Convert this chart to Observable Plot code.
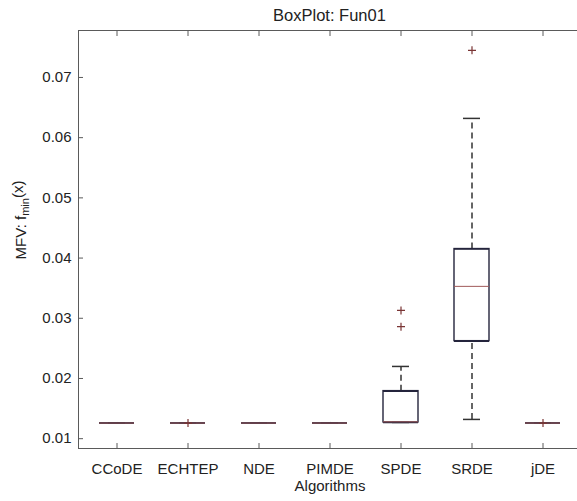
<!DOCTYPE html>
<html>
<head>
<meta charset="utf-8">
<script src="https://cdn.jsdelivr.net/npm/d3@7"></script>
<script src="https://cdn.jsdelivr.net/npm/@observablehq/plot@0.6"></script>
<style>
  html, body { margin: 0; padding: 0; background: white; overflow: hidden; }
  #chart { width: 577px; height: 501px; overflow: hidden; }
  #chart svg { max-width: none !important; overflow: hidden; }
</style>
</head>
<body>
<div id="chart"></div>
<script>
const algorithms = ["CCoDE", "ECHTEP", "NDE", "PIMDE", "SPDE", "SRDE", "jDE"];
const q1Values = [0.0126, 0.0126, 0.0126, 0.0126, 0.0127, 0.0262, 0.0126];
const medianValues = [0.0126, 0.0126, 0.0126, 0.0126, 0.0128, 0.0353, 0.0126];
const q3Values = [0.0126, 0.0126, 0.0126, 0.0126, 0.0179, 0.0415, 0.0126];
const lowerWhiskers = [0.0126, 0.0126, 0.0126, 0.0126, 0.0127, 0.0132, 0.0126];
const upperWhiskers = [0.0126, 0.0126, 0.0126, 0.0126, 0.0220, 0.0632, 0.0126];
const outlierAlgorithms = ["ECHTEP", "SPDE", "SPDE", "SRDE", "jDE"];
const outlierValues = [0.0126, 0.0313, 0.0286, 0.0745, 0.0126];
const yTicks = [0.01, 0.02, 0.03, 0.04, 0.05, 0.06, 0.07];
const titleText = "BoxPlot: Fun01";
const xLabel = "Algorithms";

const boxes = algorithms.map((a, i) => ({
  name: a, q1: q1Values[i], median: medianValues[i], q3: q3Values[i],
  lo: lowerWhiskers[i], hi: upperWhiskers[i]
}));
const outliers = outlierAlgorithms.map((a, i) => ({name: a, value: outlierValues[i]}));

const boxColor = "#24243c";
const frameColor = "#5a5a5a";

const chart = Plot.plot({
  width: 577,
  height: 501,
  marginLeft: 78,
  marginRight: -4,
  marginTop: 30,
  marginBottom: 53,
  x: {type: "band", domain: algorithms, padding: 0},
  y: {domain: [0.00837, 0.0778]},
  style: {fontFamily: "'Liberation Sans', Arial, sans-serif", fontSize: "15px", color: "#222", background: "white", maxWidth: "none", overflow: "hidden"},
  marks: [
    Plot.frame({stroke: frameColor, strokeWidth: 1}),
    // inward ticks on all sides
    Plot.axisY(yTicks, {anchor: "left", tickSize: 5, dx: 5, text: null, label: null, stroke: frameColor}),
    Plot.axisY(yTicks, {anchor: "right", tickSize: 5, dx: -5, text: null, label: null, stroke: frameColor}),
    Plot.axisX(algorithms, {anchor: "bottom", tickSize: 5, dy: -5, text: null, label: null, stroke: frameColor}),
    Plot.axisX(algorithms, {anchor: "top", tickSize: 5, dy: 5, text: null, label: null, stroke: frameColor}),
    // tick labels
    Plot.axisY(yTicks, {anchor: "left", tickSize: 0, tickPadding: 7, tickFormat: d3.format(".2f"), label: null, fill: "#222"}),
    Plot.axisX(algorithms, {anchor: "bottom", tickSize: 0, tickPadding: 15, label: null, fill: "#222"}),
    // whiskers
    Plot.ruleX(boxes, {x: "name", y1: "q3", y2: "hi", stroke: "#333", strokeWidth: 1.5, strokeDasharray: "6,4"}),
    Plot.ruleX(boxes, {x: "name", y1: "lo", y2: "q1", stroke: "#333", strokeWidth: 1.5, strokeDasharray: "6,4"}),
    Plot.tickY(boxes, {x: "name", y: "hi", stroke: "#333", strokeWidth: 1.5, insetLeft: 27, insetRight: 27}),
    Plot.tickY(boxes, {x: "name", y: "lo", stroke: "#333", strokeWidth: 1.5, insetLeft: 27, insetRight: 27}),
    // boxes
    Plot.barY(boxes, {x: "name", y1: "q1", y2: "q3", fill: "none", stroke: boxColor, strokeWidth: 1.4, insetLeft: 18, insetRight: 18}),
    Plot.tickY(boxes, {x: "name", y: "q1", stroke: boxColor, strokeWidth: 1.6, insetLeft: 18, insetRight: 18}),
    Plot.tickY(boxes, {x: "name", y: "q3", stroke: boxColor, strokeWidth: 1.6, insetLeft: 18, insetRight: 18}),
    // medians
    Plot.tickY(boxes, {x: "name", y: "median", stroke: "#a05a5a", strokeWidth: 1, insetLeft: 18, insetRight: 18}),
    // outliers
    Plot.dot(outliers, {x: "name", y: "value", symbol: "plus", r: 2.7, stroke: "#7a3535", strokeWidth: 1.2}),
    // x label
    Plot.text([xLabel], {frameAnchor: "bottom", dy: 42, fontSize: 15, fill: "#222"})
  ]
});

const svg = d3.select(chart);
// title centred over the full axes box (which extends past the right edge)
svg.append("text")
  .attr("x", (78 + 581) / 2)
  .attr("y", 17)
  .attr("text-anchor", "middle")
  .attr("dominant-baseline", "middle")
  .attr("fill", "#222")
  .attr("font-family", "'Liberation Sans', Arial, sans-serif")
  .attr("font-size", 16.5)
  .text(titleText);

// y-axis label with subscript
const yl = svg.append("text")
  .attr("transform", "translate(22,220) rotate(-90)")
  .attr("text-anchor", "middle")
  .attr("fill", "#222")
  .attr("font-family", "'Liberation Sans', Arial, sans-serif")
  .attr("font-size", 15)
  .attr("dominant-baseline", "middle");
yl.append("tspan").text("MFV: f");
yl.append("tspan").attr("font-size", 11).attr("dy", "0.35em").text("min");
yl.append("tspan").attr("dy", "-0.45em").text("(x)");

document.getElementById("chart").appendChild(chart);
</script>
</body>
</html>
